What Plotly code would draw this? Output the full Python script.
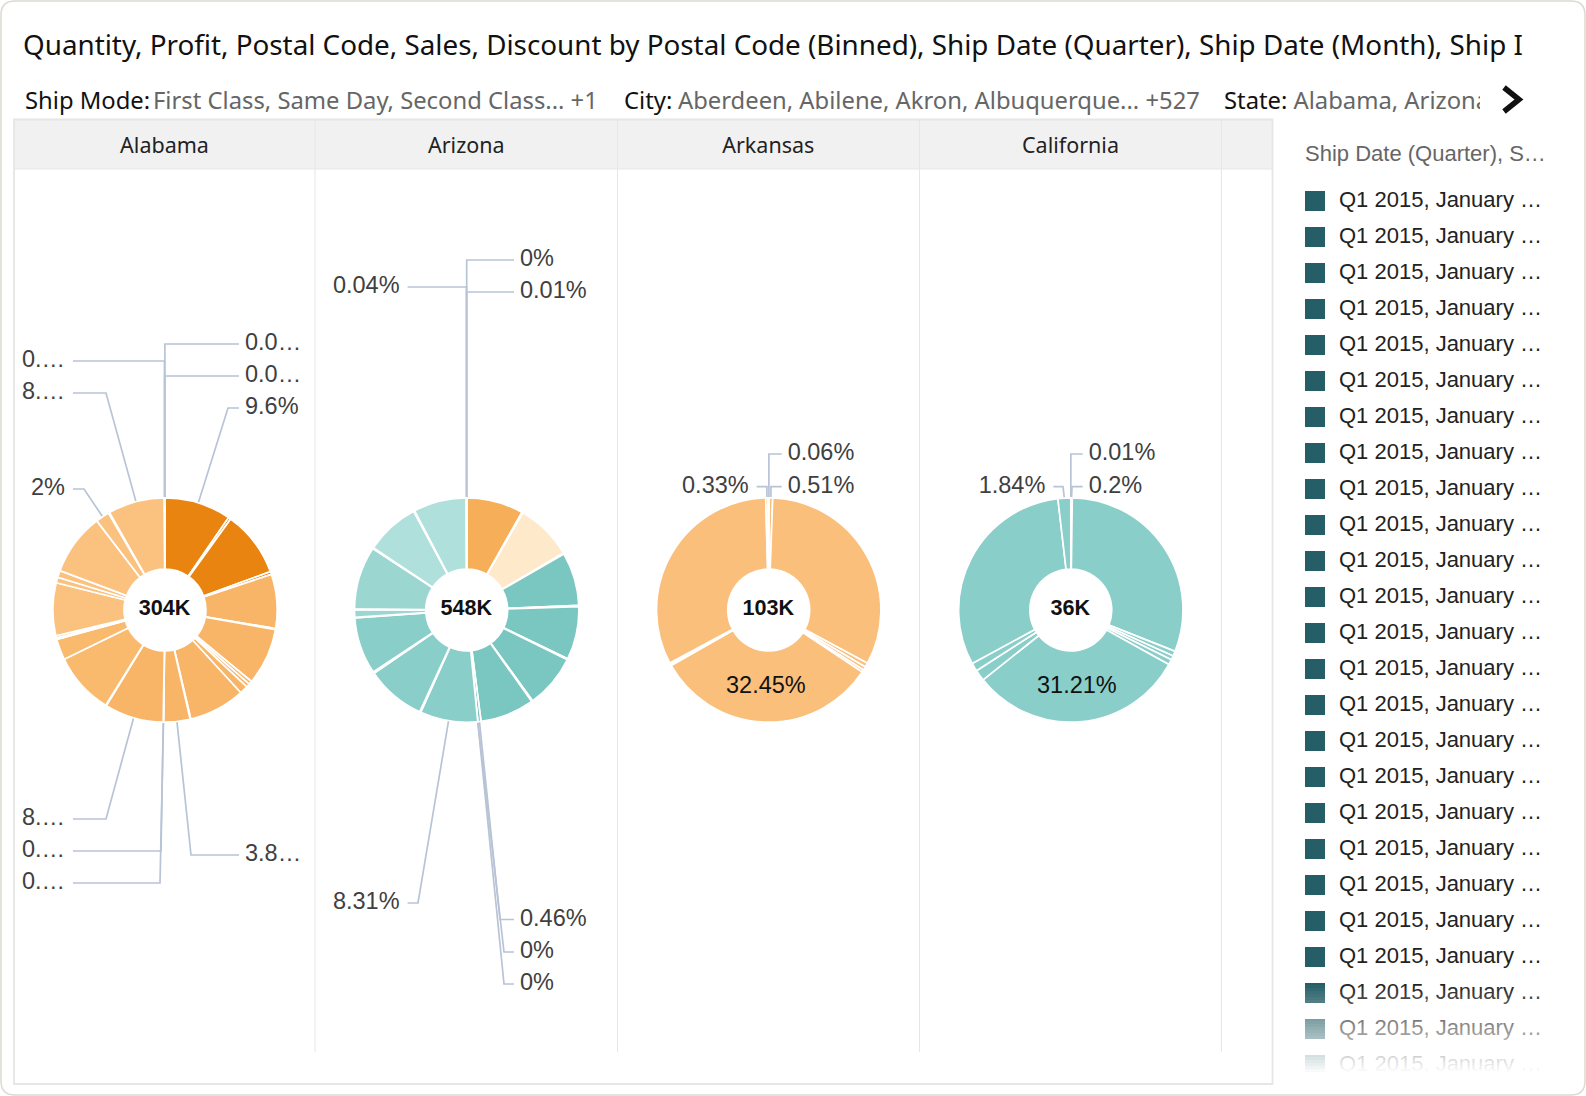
import plotly.graph_objects as go
import math

# ---------- data ----------
STATES = ["Alabama", "Arizona", "Arkansas", "California"]
TOTALS = ["304K", "548K", "103K", "36K"]
ALABAMA = [9.6, .35, 9.5, .4, 7.8, .15, 8.2, .5, .5, 1.2, 8.1, .1, 3.8, .03, .03, 8.5, .1, 8.9,
           3.0, .25, .3, 7.6, .8, 1.0, 8.9, 2.0, .15, 8.15, .03, .03, .03]
ARIZONA = [8.2, .15, 8.2, .15, 7.65, .1, .1, 7.65, .15, 7.7, .15, 7.8, .46, .004, .004, 8.31, .15, 8.6,
           .1, .1, 8.2, .1, 1.1, .1, 9.05, .15, 7.8, .15, 7.65, .04, .01, .004]
ARKANSAS = [.06, .51, 32.3, .6, .5, .36, 32.45, .2, .2, 32.4, .33, .09]
CALIFORNIA = [.01, .2, 30.8, .7, .6, .78, 31.21, 1.6, 1.2, 31.06, 1.84]
INSIDE_LABELS = ["32.45%", "31.21%"]

TITLE = "Quantity, Profit, Postal Code, Sales, Discount by Postal Code (Binned), Ship Date (Quarter), Ship Date (Month), Ship I"
FILTER_NAMES = ["Ship Mode:", "City:", "State:"]
FILTER_VALUES = ["First Class, Same Day, Second Class... +1", "Aberdeen, Abilene, Akron, Albuquerque... +527", "Alabama, Arizona"]
LEGEND_TITLE = "Ship Date (Quarter), S…"
LEGEND_ITEMS = ["Q1 2015, January …"] * 25

# ---------- styles / layout ----------
W, H = 1586, 1096
R = 112.2
CY = 610
CENTERS = [165, 466.7, 768.7, 1070.8]
SEPARATORS = [315, 617.5, 919.5, 1221.4]
HEADER_CENTERS = [164.5, 466.3, 768.3, 1070.5]
D, L1, L2 = "#E8840F", "#F8B568", "#FBC27F"
AL_COL = [D] * 4 + [L1] * 13 + ["#F9BA6E"] * 4 + [L2] * 10
T1, T2, T3, T4 = "#7AC6C0", "#8ACEC9", "#9BD6D1", "#AFE0DB"
AZ_COL = ["#F6AE58", "#F6AE58", "#FEE9CB", "#FEE9CB"] + [T1] * 11 + [T2] * 6 + [T3] * 5 + [T4] * 6
AK_COL = ["#FBBF7C"] * len(ARKANSAS)
CA_COL = ["#8ACEC9"] * len(CALIFORNIA)
PIES = [(ALABAMA, AL_COL), (ARIZONA, AZ_COL), (ARKANSAS, AK_COL), (CALIFORNIA, CA_COL)]

# (pie index, slice index, label, side, text y, elbow x or None for a straight drop)
CALLOUTS = [
    (0, 30, "0.0…", "r", 344, None), (0, 29, "0.0…", "r", 376, None), (0, 0, "9.6%", "r", 408, 228),
    (0, 28, "0.…", "l", 361, None), (0, 27, "8.…", "l", 393, 106), (0, 25, "2%", "l", 489, 84),
    (0, 15, "8.…", "l", 819, 106), (0, 14, "0.…", "l", 851, 161), (0, 13, "0.…", "l", 883, 160),
    (0, 12, "3.8…", "r", 855, 191),
    (1, 31, "0%", "r", 260, None), (1, 30, "0.01%", "r", 292, None), (1, 29, "0.04%", "l", 287, None),
    (1, 15, "8.31%", "l", 903, 418), (1, 12, "0.46%", "r", 919.5, 500), (1, 13, "0%", "r", 952, 504), (1, 14, "0%", "r", 984, 504),
    (2, 0, "0.06%", "r", 454, None), (2, 1, "0.51%", "r", 486.7, None), (2, 10, "0.33%", "l", 486.7, None),
    (3, 0, "0.01%", "r", 454, None), (3, 1, "0.2%", "r", 486.7, 1072), (3, 10, "1.84%", "l", 486.7, 1063),
]
# x of the end of leader (right side, left side) per pie
LEAD_X = [(239, 73), (514, 407.6), (781.7, 756.7), (1082.7, 1053.3)]
LEADER = "#B8C4D6"
LABEL_COLOR = "#404040"
SANS = "Liberation Sans, Arial, sans-serif"
NOTO = "Noto Sans, sans-serif"
FRAME = "#E6E6E6"

fig = go.Figure()
shapes = []

def rect(x0, y0, x1, y1, fill=None, line=None, lw=1, layer="below"):
    shapes.append(dict(type="rect", xref="x", yref="y", x0=x0, y0=y0, x1=x1, y1=y1, layer=layer,
                       fillcolor=fill or "rgba(0,0,0,0)", line=dict(color=line or "rgba(0,0,0,0)", width=lw if line else 0)))

def vline(x, y0, y1, color=FRAME, w=1):
    shapes.append(dict(type="line", xref="x", yref="y", x0=x, x1=x, y0=y0, y1=y1, layer="below", line=dict(color=color, width=w)))

# card with rounded corners
x0, y0, x1, y1, rr = 1, 1, 1585, 1095, 14
shapes.append(dict(type="path", xref="x", yref="y", layer="below", fillcolor="white",
                   line=dict(color="#DDD9D2", width=1.5),
                   path=f"M{x0+rr},{y0} L{x1-rr},{y0} Q{x1},{y0} {x1},{y0+rr} L{x1},{y1-rr} Q{x1},{y1} {x1-rr},{y1} "
                        f"L{x0+rr},{y1} Q{x0},{y1} {x0},{y1-rr} L{x0},{y0+rr} Q{x0},{y0} {x0+rr},{y0} Z"))
# facet frame
rect(14, 119.5, 1272.5, 169, fill="#F1F1F1")
rect(14, 119.5, 1272.5, 1084, line=FRAME, lw=1.8)
shapes.append(dict(type="line", xref="x", yref="y", x0=14, x1=1272.5, y0=169, y1=169, layer="below", line=dict(color=FRAME, width=1)))
for s in SEPARATORS:
    vline(s, 119.5, 1052)

# pies
for i, (vals, cols) in enumerate(PIES):
    cx = CENTERS[i]
    fig.add_trace(go.Pie(
        values=vals, labels=[f"{STATES[i]} {k+1}" for k in range(len(vals))],
        sort=False, direction="clockwise", rotation=0, hole=0.365,
        marker=dict(colors=cols, line=dict(color="white", width=1.7)),
        textinfo="none",
        domain=dict(x=[(cx - R) / W, (cx + R) / W], y=[1 - (CY + R) / H, 1 - (CY - R) / H]),
        showlegend=False, hoverinfo="label+percent",
    ))

# leader lines and outer labels
lx, ly, rt, lt = [], [], [], []
for p, s, txt, side, y, elbow in CALLOUTS:
    vals = PIES[p][0]
    ang = math.radians(360 * (sum(vals[:s]) + vals[s] / 2) / sum(vals))
    ax, ay = CENTERS[p] + R * math.sin(ang), CY - R * math.cos(ang)
    ex = ax if elbow is None else elbow
    start = LEAD_X[p][0] if side == "r" else LEAD_X[p][1]
    lx += [start, ex, ax, None]
    ly += [y, y, ay, None]
    (rt if side == "r" else lt).append((start + 6 if side == "r" else start - 8, y + 0.3, txt))
fig.add_trace(go.Scatter(x=lx, y=ly, mode="lines", line=dict(color=LEADER, width=1.7), hoverinfo="skip", showlegend=False))

def text_trace(items, pos, family, size, color, weight=None):
    fig.add_trace(go.Scatter(x=[a[0] for a in items], y=[a[1] for a in items], text=[a[2] for a in items],
                             mode="text", textposition=pos, textfont=dict(family=family, size=size, color=color, weight=weight),
                             hoverinfo="skip", showlegend=False, cliponaxis=False))

text_trace(rt, "middle right", SANS, 23.5, LABEL_COLOR)
text_trace(lt, "middle left", SANS, 23.5, LABEL_COLOR)
# totals in the holes
text_trace([(c - 0.5, CY - 0.5, t) for c, t in zip(CENTERS, TOTALS)], "middle center", SANS, 21.6, "#111111", 700)

# headers, title, filters
text_trace([(c, 148, s) for c, s in zip(HEADER_CENTERS, STATES)], "middle center", NOTO, 21.5, "#222222")
text_trace([(23, 48, TITLE)], "middle right", NOTO, 27.8, "#111111")
text_trace(list(zip([25, 624, 1224], [103] * 3, FILTER_NAMES)), "middle right", NOTO, 23.8, "#111111")
text_trace(list(zip([153, 678, 1293.5], [103] * 3, FILTER_VALUES)), "middle right", NOTO, 23.8, "#666666")
rect(1480, 85, 1498, 118, fill="white", layer="above")

# arrow
shapes.append(dict(type="path", xref="x", yref="y", layer="above", path="M1504,87.5 L1519,99.5 L1504,111.5",
                   line=dict(color="#111111", width=5.5), fillcolor="rgba(0,0,0,0)"))

# legend
rows = [201 + 36 * i for i in range(len(LEGEND_ITEMS))]
text_trace([(1305, 155, LEGEND_TITLE)], "middle right", SANS, 22, "#666666")
fig.add_trace(go.Scatter(x=[1315] * len(rows), y=rows, mode="markers",
                         marker=dict(symbol="square", size=20, color="#255E66", line=dict(width=0)),
                         hoverinfo="skip", showlegend=False))
text_trace(list(zip([1339] * len(rows), [r + 0.5 for r in rows], LEGEND_ITEMS)), "middle right", SANS, 22, "#222222")
# bottom fade of the scrolling legend
STEPS = 30
for k in range(STEPS):
    ya = 985 + 3 * k
    a = (k + 1) / STEPS
    rect(1296, ya, 1570, ya + 3, fill=f"rgba(255,255,255,{a:.3f})", layer="above")
rect(1296, 1075, 1570, 1090, fill="white", layer="above")

# labels inside the largest slices
annotations = [dict(x=x, y=684.5, xref="x", yref="y", text=t, showarrow=False, font=dict(family=SANS, size=23.5, color="#111111"))
               for x, t in zip([765.7, 1077], INSIDE_LABELS)]

fig.update_layout(
    width=W, height=H, margin=dict(l=0, r=0, t=0, b=0), paper_bgcolor="white", plot_bgcolor="rgba(0,0,0,0)",
    xaxis=dict(range=[0, W], visible=False, fixedrange=True),
    yaxis=dict(range=[H, 0], visible=False, fixedrange=True),
    shapes=shapes, annotations=annotations, showlegend=False,
)
fig.write_html("out.html", config=dict(displayModeBar=False),
               post_script="document.body.style.margin='0';document.documentElement.style.overflow='hidden';document.body.style.overflow='hidden';")
